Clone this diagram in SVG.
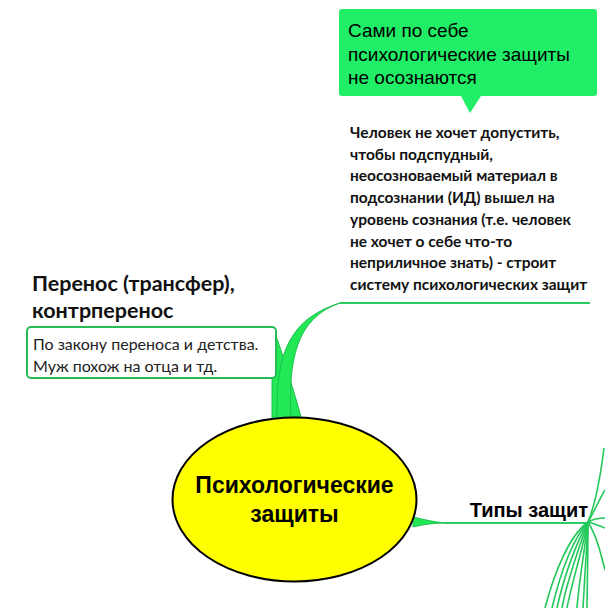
<svg xmlns="http://www.w3.org/2000/svg" width="605" height="608" viewBox="0 0 605 608">
<style>
.callout{fill:#1fee66}
.ct{font-family:"Liberation Sans",Arial,sans-serif;font-size:19px;fill:#000}
.bt{font-family:Lato,"Open Sans",sans-serif;font-size:15.5px;font-weight:bold;fill:#111}
.tt{font-family:Lato,"Open Sans",sans-serif;font-size:21.5px;font-weight:bold;fill:#111}
.nt{font-family:Lato,"Open Sans",sans-serif;font-size:16px;fill:#222}
.ht{font-family:"Liberation Sans",Arial,sans-serif;font-size:23px;font-weight:bold;fill:#000}
.ht2{font-family:"Liberation Sans",Arial,sans-serif;font-size:20px;font-weight:bold;fill:#000}
.wedge{fill:#22e855;stroke:#1cc04e;stroke-width:1}
.line{fill:none;stroke:#2acb62;stroke-width:2}
.fan{fill:none;stroke:#22c95a;stroke-width:1.6}
</style>
<rect width="605" height="608" fill="#fff"/>
<g id="connectors">
<path class="wedge" d="M272,420 C272,380 272,345 273,328 C280,345 292,385 302,420 Z"/>
<path class="wedge" d="M277,420 C276,360 285,320 340,303 C296,318 288,360 291,420 Z"/>
<path class="wedge" d="M413,517 C425,520 435,522 445,523 C435,523 425,524 413,527 Z"/>
<path class="line" d="M340,303 L590,303"/>
<path class="line" d="M445,523 L590,523"/>
<path class="fan" d="M588,522 C570,535 555,570 545,608"/>
<path class="fan" d="M588,522 C572,540 560,575 552,608"/>
<path class="fan" d="M588,522 C575,545 563,580 557,608"/>
<path class="fan" d="M588,522 C578,550 566,585 562,608"/>
<path class="fan" d="M588,522 C581,555 570,590 567,608"/>
<path class="fan" d="M588,522 C583,560 578,590 577,608"/>
<path class="fan" d="M588,522 C586,560 584,590 583,608"/>
<path class="fan" d="M588,522 C588,565 587,590 587,608"/>
<path class="fan" d="M588,522 C595,505 600,480 604,448"/>
<path class="fan" d="M588,522 C594,512 599,500 605,490"/>
<path class="fan" d="M588,522 C595,518 600,518 605,518"/>
<path class="fan" d="M588,522 C595,524 600,526 605,528"/>
<path class="fan" d="M588,522 C596,535 600,550 605,570"/>
</g>
<g id="callout">
<path class="callout" d="M342,9 H594 Q597,9 597,12 V93 Q597,96 594,96 H481 L470,113 L461,96 H342 Q339,96 339,93 V12 Q339,9 342,9 Z"/>
<text class="ct" x="348" y="37">Сами по себе</text>
<text class="ct" x="348" y="61">психологические защиты</text>
<text class="ct" x="348" y="84">не осознаются</text>
</g>
<g id="note-main">
<text class="bt" x="350" y="138">Человек не хочет допустить,</text>
<text class="bt" x="350" y="160">чтобы подспудный,</text>
<text class="bt" x="350" y="181">неосозноваемый материал в</text>
<text class="bt" x="350" y="203">подсознании (ИД) вышел на</text>
<text class="bt" x="350" y="225">уровень сознания (т.е. человек</text>
<text class="bt" x="350" y="247">не хочет о себе что-то</text>
<text class="bt" x="350" y="268">неприличное знать) - строит</text>
<text class="bt" x="350" y="290">систему психологических защит</text>
</g>
<g id="perenos">
<text class="tt" x="32" y="291">Перенос (трансфер),</text>
<text class="tt" x="32" y="318">контрперенос</text>
<rect x="27" y="327" width="249" height="51" rx="4" fill="#fff" stroke="#26bb55" stroke-width="2"/>
<text class="nt" x="33" y="350">По закону переноса и детства.</text>
<text class="nt" x="33" y="372">Муж похож на отца и тд.</text>
</g>
<g id="center">
<ellipse cx="294.5" cy="499.5" rx="122" ry="82" fill="#ffff00" stroke="#000" stroke-width="2"/>
<text class="ht" x="294.5" y="493" text-anchor="middle">Психологические</text>
<text class="ht" x="294.5" y="522" text-anchor="middle">защиты</text>
</g>
<g id="types">
<text class="ht2" x="588" y="517" text-anchor="end">Типы защит</text>
</g>
</svg>
